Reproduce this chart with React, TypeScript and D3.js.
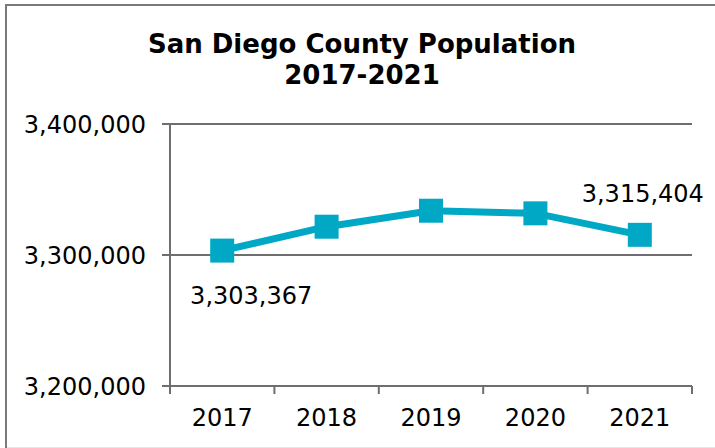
import React from "react";
import * as d3 from "d3";

const years = ["2017", "2018", "2019", "2020", "2021"];
const population = [3303367, 3321600, 3333800, 3331800, 3315404];
const yTicks = [3200000, 3300000, 3400000];
const titleLines = ["San Diego County Population", "2017-2021"];
const labeledIndices = [0, 4];

const W = 715;
const H = 448;
const FONT = "'DejaVu Sans', Verdana, sans-serif";
const AXIS = "#6e6e6e";
const LINE = "#00A8C6";

export default function App() {
  const left = 170, right = 692, top = 124, bottom = 386;
  const x = d3.scaleBand<string>().domain(years).range([left, right]);
  const y = d3.scaleLinear().domain([3200000, 3400000]).range([bottom, top]);
  const fmt = d3.format(",");
  const line = d3
    .line<number>()
    .x((_, i) => (x(years[i]) as number) + x.bandwidth() / 2)
    .y((d) => y(d));
  const ms = 24;
  const labelOffsets: Record<number, [number, number]> = {
    0: [29, 53],
    4: [3, -33],
  };

  return (
    <svg
      width={W}
      height={H}
      style={{ position: "absolute", left: 0, top: 0, background: "#fff" }}
      fontFamily={FONT}
    >
      <rect x={0} y={0} width={W} height={H} fill="#fff" />
      {/* chart border */}
      <line x1={6} y1={4} x2={6} y2={H} stroke="#7a7a7a" strokeWidth={2} />
      <line x1={5} y1={5} x2={W} y2={5} stroke="#7a7a7a" strokeWidth={2} />
      <line x1={7} y1={447.5} x2={W} y2={447.5} stroke="#e6e6e6" strokeWidth={1} />

      {/* title */}
      {titleLines.map((t, i) => (
        <text
          key={t}
          x={362}
          y={53 + i * 31}
          textAnchor="middle"
          fontSize={26}
          fontWeight="bold"
          fill="#000"
        >
          {t}
        </text>
      ))}

      {/* gridlines + y ticks */}
      {yTicks.map((t) => (
        <g key={t}>
          <line x1={162} x2={right} y1={y(t)} y2={y(t)} stroke={AXIS} strokeWidth={2} />
          <text x={146} y={y(t) + 8.5} textAnchor="end" fontSize={24} fill="#000">
            {fmt(t)}
          </text>
        </g>
      ))}

      {/* y axis line */}
      <line x1={left} x2={left} y1={top} y2={bottom + 8} stroke={AXIS} strokeWidth={2} />

      {/* x ticks */}
      {[...years.map((yr) => x(yr) as number), right].map((px, i) => (
        <line key={i} x1={px} x2={px} y1={bottom} y2={bottom + 8} stroke={AXIS} strokeWidth={2} />
      ))}
      {years.map((yr) => (
        <text
          key={yr}
          x={(x(yr) as number) + x.bandwidth() / 2}
          y={426}
          textAnchor="middle"
          fontSize={24}
          fill="#000"
        >
          {yr}
        </text>
      ))}

      {/* series */}
      <path d={line(population) || ""} fill="none" stroke={LINE} strokeWidth={7} strokeLinejoin="round" />
      {population.map((v, i) => (
        <rect
          key={i}
          x={(x(years[i]) as number) + x.bandwidth() / 2 - ms / 2}
          y={y(v) - ms / 2}
          width={ms}
          height={ms}
          fill={LINE}
        />
      ))}

      {/* data labels */}
      {labeledIndices.map((i) => (
        <text
          key={i}
          x={(x(years[i]) as number) + x.bandwidth() / 2 + labelOffsets[i][0]}
          y={y(population[i]) + labelOffsets[i][1]}
          textAnchor="middle"
          fontSize={24}
          fill="#000"
        >
          {fmt(population[i])}
        </text>
      ))}
    </svg>
  );
}
